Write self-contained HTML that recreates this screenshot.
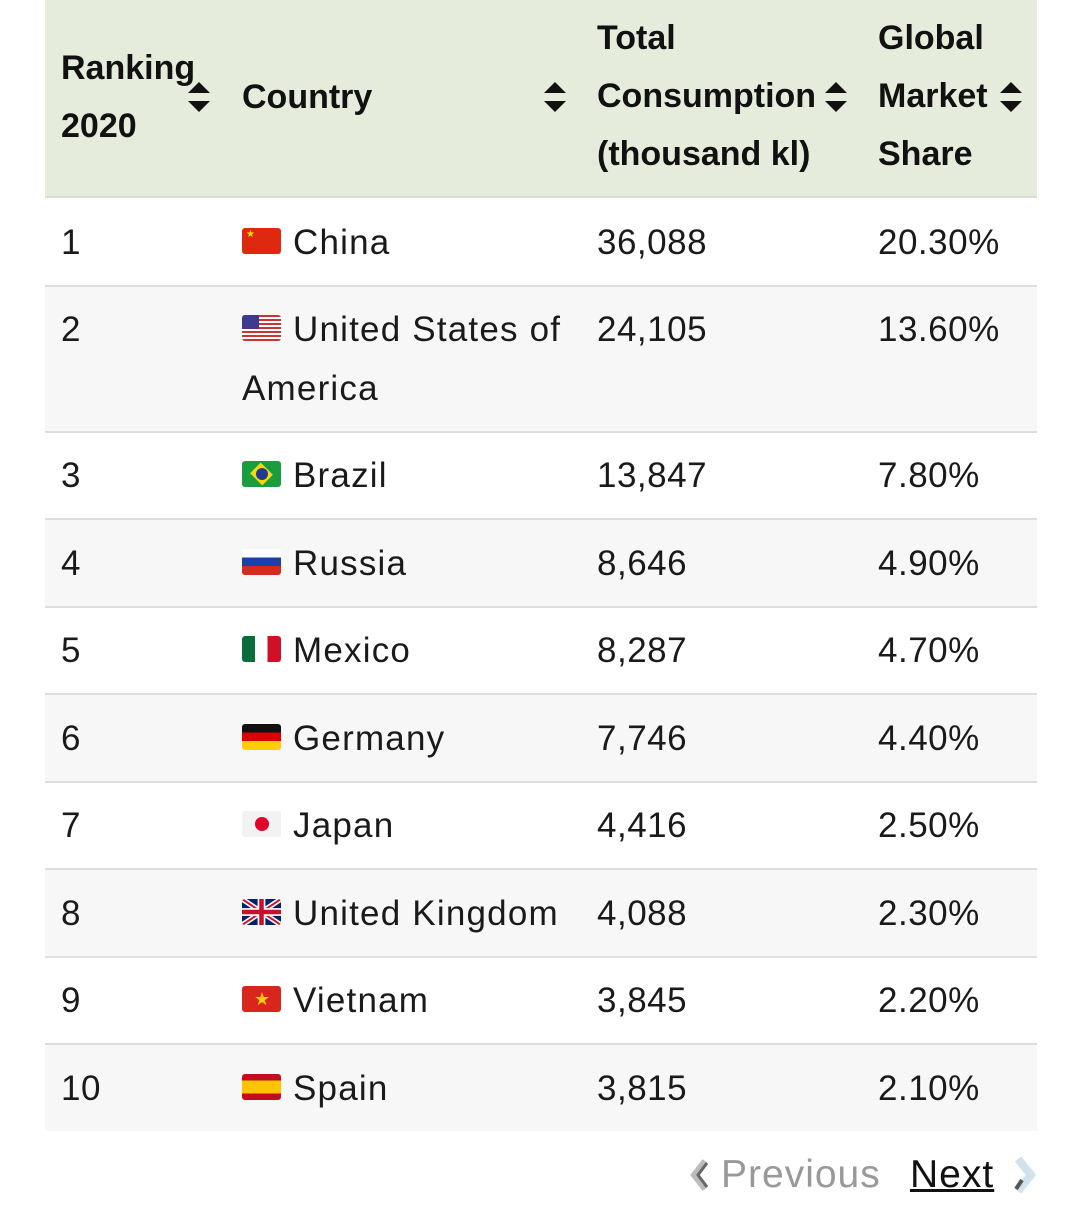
<!DOCTYPE html>
<html><head><meta charset="utf-8"><style>
*{margin:0;padding:0;box-sizing:border-box}
body{width:1080px;height:1216px;background:#fff;font-family:"Liberation Sans",Roboto,sans-serif;color:#111;position:relative;overflow:hidden}
.hdr{position:absolute;left:45px;top:0;width:992px;height:198px;background:#e5ecdb;border-bottom:2px solid #dcdcdc}
.h{position:absolute;font-weight:bold;font-size:34px;line-height:58px;color:#111}
.row{position:absolute;left:45px;width:992px;border-bottom:2px solid #dedede}
.t{position:absolute;font-size:35px;line-height:58px;color:#1a1a1a;letter-spacing:0.5px}
.c{letter-spacing:1.2px}
.flag{position:absolute;width:39px;height:26px;border-radius:3px;overflow:hidden}
.sort{position:absolute;width:22px;height:30px}
</style></head><body>
<div class="hdr"></div>
<div class="h" style="left:61px;top:39px">Ranking<br>2020</div>
<div class="h" style="left:242px;top:68px">Country</div>
<div class="h" style="left:597px;top:9px">Total<br>Consumption<br>(thousand kl)</div>
<div class="h" style="left:878px;top:9px">Global<br>Market<br>Share</div>
<svg class="sort" style="left:188px;top:82px" viewBox="0 0 22 30"><path d="M11 0L22 11H0Z M11 30L22 19H0Z" fill="#111"/></svg>
<svg class="sort" style="left:544px;top:82px" viewBox="0 0 22 30"><path d="M11 0L22 11H0Z M11 30L22 19H0Z" fill="#111"/></svg>
<svg class="sort" style="left:825px;top:82px" viewBox="0 0 22 30"><path d="M11 0L22 11H0Z M11 30L22 19H0Z" fill="#111"/></svg>
<svg class="sort" style="left:1000px;top:82px" viewBox="0 0 22 30"><path d="M11 0L22 11H0Z M11 30L22 19H0Z" fill="#111"/></svg>

<div class="row" style="top:198px;height:89px;background:#fff"></div>
<div class="row" style="top:287px;height:146px;background:#f7f7f7"></div>
<div class="row" style="top:433px;height:87px;background:#fff"></div>
<div class="row" style="top:520px;height:88px;background:#f7f7f7"></div>
<div class="row" style="top:608px;height:87px;background:#fff"></div>
<div class="row" style="top:695px;height:88px;background:#f7f7f7"></div>
<div class="row" style="top:783px;height:87px;background:#fff"></div>
<div class="row" style="top:870px;height:88px;background:#f7f7f7"></div>
<div class="row" style="top:958px;height:87px;background:#fff"></div>
<div class="row" style="top:1045px;height:86px;background:#f7f7f7;border-bottom:none"></div>

<div class="t" style="left:61px;top:214px">1</div>
<div class="flag" style="left:242px;top:228px;background:#de2910"><span style="position:absolute;left:4px;top:1px;color:#ffde00;font-size:10px">★</span></div>
<div class="t c" style="left:293px;top:214px">China</div>
<div class="t" style="left:597px;top:214px">36,088</div>
<div class="t" style="left:878px;top:214px">20.30%</div>

<div class="t" style="left:61px;top:301px">2</div>
<div class="flag" style="left:242px;top:315px;background:repeating-linear-gradient(#c33 0 2px,#fff 2px 4px)"><div style="position:absolute;left:0;top:0;width:17px;height:14px;background:#3c3b8e"></div></div>
<div class="t c" style="left:293px;top:301px">United States of</div>
<div class="t c" style="left:242px;top:360px">America</div>
<div class="t" style="left:597px;top:301px">24,105</div>
<div class="t" style="left:878px;top:301px">13.60%</div>

<div class="t" style="left:61px;top:447px">3</div>
<div class="flag" style="left:242px;top:461px;background:#1a9d3c"><div style="position:absolute;left:8px;top:3px;width:23px;height:20px;background:#f6d80f;transform:rotate(45deg) scale(.75,.75)"></div><div style="position:absolute;left:14px;top:7px;width:12px;height:12px;border-radius:50%;background:#233a8c"></div></div>
<div class="t c" style="left:293px;top:447px">Brazil</div>
<div class="t" style="left:597px;top:447px">13,847</div>
<div class="t" style="left:878px;top:447px">7.80%</div>

<div class="t" style="left:61px;top:535px">4</div>
<div class="flag" style="left:242px;top:549px;background:linear-gradient(#fff 0 33%,#1c3fa8 33% 66%,#d52b1e 66%)"></div>
<div class="t c" style="left:293px;top:535px">Russia</div>
<div class="t" style="left:597px;top:535px">8,646</div>
<div class="t" style="left:878px;top:535px">4.90%</div>

<div class="t" style="left:61px;top:622px">5</div>
<div class="flag" style="left:242px;top:636px;background:linear-gradient(90deg,#0b6b3a 0 33%,#fff 33% 66%,#ce1126 66%)"></div>
<div class="t c" style="left:293px;top:622px">Mexico</div>
<div class="t" style="left:597px;top:622px">8,287</div>
<div class="t" style="left:878px;top:622px">4.70%</div>

<div class="t" style="left:61px;top:710px">6</div>
<div class="flag" style="left:242px;top:724px;background:linear-gradient(#111 0 33%,#dd0000 33% 66%,#ffce00 66%)"></div>
<div class="t c" style="left:293px;top:710px">Germany</div>
<div class="t" style="left:597px;top:710px">7,746</div>
<div class="t" style="left:878px;top:710px">4.40%</div>

<div class="t" style="left:61px;top:797px">7</div>
<div class="flag" style="left:242px;top:811px;background:#f2f2f2"><div style="position:absolute;left:13px;top:6px;width:14px;height:14px;border-radius:50%;background:#e0002a"></div></div>
<div class="t c" style="left:293px;top:797px">Japan</div>
<div class="t" style="left:597px;top:797px">4,416</div>
<div class="t" style="left:878px;top:797px">2.50%</div>

<div class="t" style="left:61px;top:885px">8</div>
<svg class="flag" style="left:242px;top:899px" viewBox="0 0 60 40"><rect width="60" height="40" fill="#012169"/><path d="M0 0L60 40M60 0L0 40" stroke="#fff" stroke-width="8"/><path d="M0 0L60 40M60 0L0 40" stroke="#c8102e" stroke-width="3"/><path d="M30 0V40M0 20H60" stroke="#fff" stroke-width="12"/><path d="M30 0V40M0 20H60" stroke="#c8102e" stroke-width="7"/></svg>
<div class="t c" style="left:293px;top:885px">United Kingdom</div>
<div class="t" style="left:597px;top:885px">4,088</div>
<div class="t" style="left:878px;top:885px">2.30%</div>

<div class="t" style="left:61px;top:972px">9</div>
<div class="flag" style="left:242px;top:986px;background:#da251d"><span style="position:absolute;left:12px;top:1px;color:#ffcd00;font-size:18px;line-height:24px">★</span></div>
<div class="t c" style="left:293px;top:972px">Vietnam</div>
<div class="t" style="left:597px;top:972px">3,845</div>
<div class="t" style="left:878px;top:972px">2.20%</div>

<div class="t" style="left:61px;top:1060px">10</div>
<div class="flag" style="left:242px;top:1074px;background:linear-gradient(#c60b1e 0 25%,#ffc400 25% 75%,#c60b1e 75%)"></div>
<div class="t c" style="left:293px;top:1060px">Spain</div>
<div class="t" style="left:597px;top:1060px">3,815</div>
<div class="t" style="left:878px;top:1060px">2.10%</div>

<svg style="position:absolute;left:689px;top:1158px" width="22" height="34" viewBox="0 0 22 34"><path d="M16 3L5 17L16 31" stroke="#bbb" stroke-width="6" fill="none"/><path d="M18 5L9 17L18 29" stroke="#666" stroke-width="3" fill="none"/></svg>
<div class="t" style="left:721px;top:1146px;font-size:39px;color:#999;letter-spacing:1px">Previous</div>
<div class="t" style="left:910px;top:1146px;font-size:39px;color:#111;text-decoration:underline;letter-spacing:1px">Next</div>
<svg style="position:absolute;left:1012px;top:1156px" width="26" height="38" viewBox="0 0 26 38"><path d="M6 3L19 19L6 35" stroke="#d0e2ea" stroke-width="8" fill="none"/><path d="M10 24L4 33" stroke="#555" stroke-width="4"/></svg>
</body></html>
